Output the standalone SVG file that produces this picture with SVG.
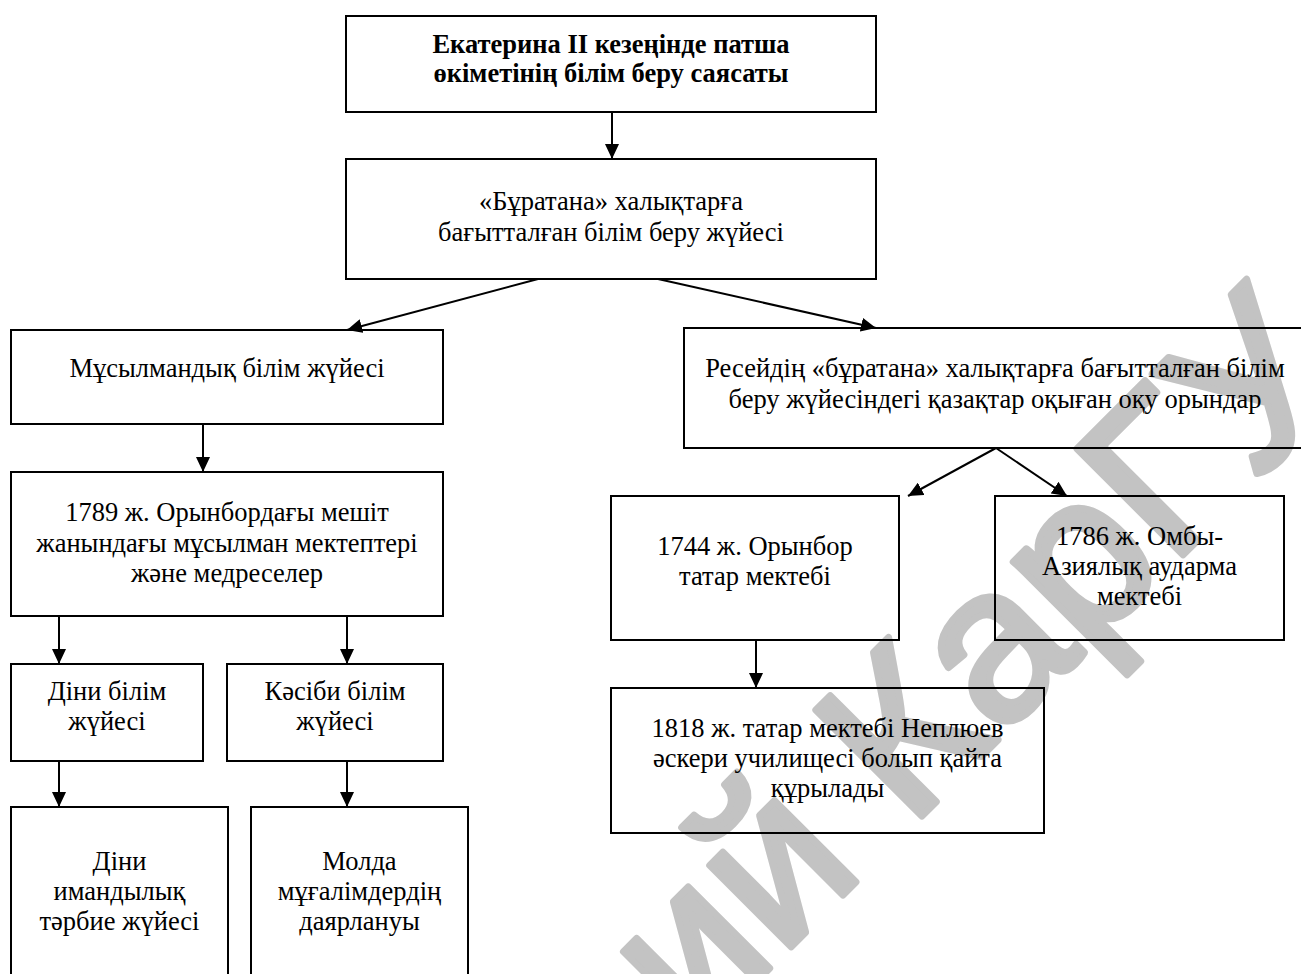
<svg xmlns="http://www.w3.org/2000/svg" width="1301" height="974" viewBox="0 0 1301 974">
<defs>
<style>
.box{fill:none;stroke:#000;stroke-width:2}
.t{font-family:"Liberation Serif","Times New Roman",serif;font-size:26.5px;fill:#000;text-anchor:middle}
.b{font-weight:bold}
.c{stroke:#000;stroke-width:2;fill:none;marker-end:url(#ah)}
.wm{font-family:"Liberation Sans",Arial,sans-serif;font-size:218px;fill:#c3c3c3;stroke:#c3c3c3;stroke-width:7;stroke-linejoin:round}
</style>
<marker id="ah" markerUnits="userSpaceOnUse" markerWidth="16" markerHeight="14" refX="15" refY="7" orient="auto">
<path d="M0,0 L15,7 L0,14 z" fill="#000"/>
</marker>
</defs>
<rect width="1301" height="974" fill="#fff"/>
<text class="wm" transform="translate(1352,386) rotate(-45)" x="0" y="0" text-anchor="end">Репозиторий КарГУ</text>
<g id="connectors">
<line class="c" x1="612" y1="112" x2="612" y2="159"/>
<line class="c" x1="538" y1="279" x2="347" y2="330"/>
<line class="c" x1="658" y1="279" x2="876" y2="328"/>
<line class="c" x1="203" y1="424" x2="203" y2="472"/>
<line class="c" x1="59" y1="616" x2="59" y2="664"/>
<line class="c" x1="347" y1="616" x2="347" y2="664"/>
<line class="c" x1="59" y1="761" x2="59" y2="807"/>
<line class="c" x1="347" y1="761" x2="347" y2="807"/>
<line class="c" x1="996" y1="448" x2="908" y2="496"/>
<line class="c" x1="996" y1="448" x2="1067" y2="496"/>
<line class="c" x1="756" y1="640" x2="756" y2="688"/>
</g>
<g id="n1"><rect class="box" x="346" y="16" width="530" height="96"/>
<text class="t b" x="611" y="53">Екатерина II кезеңінде патша</text>
<text class="t b" x="611" y="82">өкіметінің білім беру саясаты</text></g>
<g id="n2"><rect class="box" x="346" y="159" width="530" height="120"/>
<text class="t" x="611" y="210">«Бұратана» халықтарға</text>
<text class="t" x="611" y="241">бағытталған білім беру жүйесі</text></g>
<g id="n3"><rect class="box" x="11" y="330" width="432" height="94"/>
<text class="t" x="227" y="377">Мұсылмандық білім жүйесі</text></g>
<g id="n4"><rect class="box" x="11" y="472" width="432" height="144"/>
<text class="t" x="227" y="521">1789 ж. Орынбордағы мешіт</text>
<text class="t" x="227" y="552">жанындағы мұсылман мектептері</text>
<text class="t" x="227" y="582">және медреселер</text></g>
<g id="n5"><rect class="box" x="11" y="664" width="192" height="97"/>
<text class="t" x="107" y="700">Діни білім</text>
<text class="t" x="107" y="730">жүйесі</text></g>
<g id="n6"><rect class="box" x="227" y="664" width="216" height="97"/>
<text class="t" x="335" y="700">Кәсіби білім</text>
<text class="t" x="335" y="730">жүйесі</text></g>
<g id="n7"><rect class="box" x="11" y="807" width="217" height="190"/>
<text class="t" x="119.5" y="870">Діни</text>
<text class="t" x="119.5" y="900">имандылық</text>
<text class="t" x="119.5" y="930">тәрбие жүйесі</text></g>
<g id="n8"><rect class="box" x="251" y="807" width="217" height="190"/>
<text class="t" x="359.5" y="870">Молда</text>
<text class="t" x="359.5" y="900">мұғалімдердің</text>
<text class="t" x="359.5" y="930">даярлануы</text></g>
<g id="n9"><rect class="box" x="684" y="328" width="622" height="120"/>
<text class="t" x="995" y="377">Ресейдің «бұратана» халықтарға бағытталған білім</text>
<text class="t" x="995" y="408">беру жүйесіндегі қазақтар оқыған оқу орындар</text></g>
<g id="n10"><rect class="box" x="611" y="496" width="288" height="144"/>
<text class="t" x="755" y="555">1744 ж. Орынбор</text>
<text class="t" x="755" y="585">татар мектебі</text></g>
<g id="n11"><rect class="box" x="995" y="496" width="289" height="144"/>
<text class="t" x="1139.5" y="545">1786 ж. Омбы-</text>
<text class="t" x="1139.5" y="575">Азиялық аударма</text>
<text class="t" x="1139.5" y="605">мектебі</text></g>
<g id="n12"><rect class="box" x="611" y="688" width="433" height="145"/>
<text class="t" x="827.5" y="737">1818 ж. татар мектебі Неплюев</text>
<text class="t" x="827.5" y="767">әскери училищесі болып қайта</text>
<text class="t" x="827.5" y="797">құрылады</text></g>
</svg>
